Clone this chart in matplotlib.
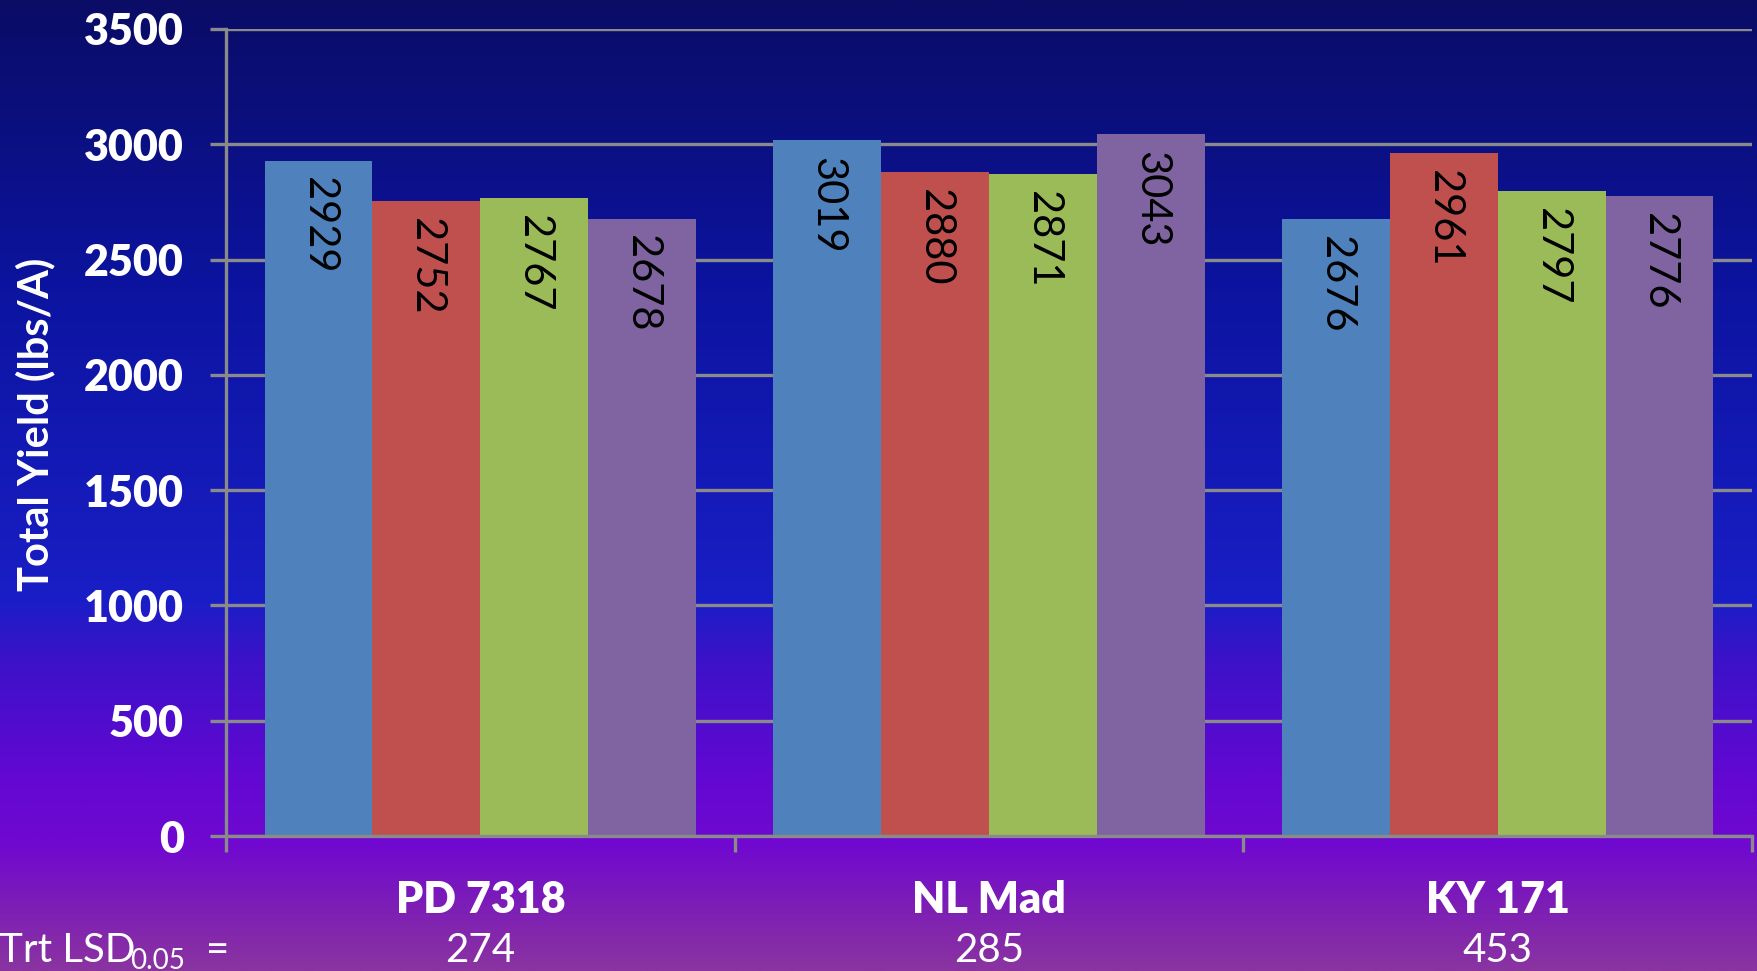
"""Total yield by variety and treatment, slide-style bar chart."""

import matplotlib
matplotlib.use("Agg")
import matplotlib.pyplot as plt
import matplotlib.transforms as mtransforms
from matplotlib.colors import LinearSegmentedColormap
import numpy as np

plt.rcParams["font.family"] = ["Lato", "DejaVu Sans"]

# data
varieties = ["PD 7318", "NL Mad", "KY 171"]
trt_1 = [2929, 3019, 2676]
trt_2 = [2752, 2880, 2961]
trt_3 = [2767, 2871, 2797]
trt_4 = [2678, 3043, 2776]
lsd_values = [274, 285, 453]
y_ticks = [0, 500, 1000, 1500, 2000, 2500, 3000, 3500]

series = [trt_1, trt_2, trt_3, trt_4]
colors = ["#4F81BD", "#C0504D", "#9BBB59", "#8064A2"]

W, H = 1758, 971
fig = plt.figure(figsize=(W / 100, H / 100), dpi=100)

# background gradient (top navy -> blue -> purple -> magenta)
bg = fig.add_axes([0, 0, 1, 1], zorder=-10)
stops = [
    (0.00, "#0a0c66"),
    (0.30, "#0c14a0"),
    (0.62, "#1a1ec6"),
    (0.68, "#3c12c8"),
    (0.80, "#6208d2"),
    (0.87, "#7008d0"),
    (0.93, "#7c1cb8"),
    (1.00, "#8a34a0"),
]
cmap = LinearSegmentedColormap.from_list("slide_bg", stops)
bg.imshow(np.linspace(0, 1, 512).reshape(-1, 1), aspect="auto", cmap=cmap,
          extent=[0, 1, 0, 1], origin="upper")
bg.set_axis_off()

ax_left, ax_right = 226 / W, 1752 / W
ax_top, ax_bot = 29 / H, 836 / H
ax = fig.add_axes([ax_left, 1 - ax_bot, ax_right - ax_left, ax_bot - ax_top])
ax.set_facecolor("none")

x = np.arange(len(varieties))
bar_w = 0.212
grid_col = "#8a8a8a"

for i, (vals, col) in enumerate(zip(series, colors)):
    xs = x + (i - 1.5) * bar_w
    ax.bar(xs, vals, width=bar_w, color=col, zorder=3)
    for xi, v in zip(xs, vals):
        ax.annotate(str(v), (xi, v), xytext=(0, -12), textcoords="offset points",
                    ha="center", va="top", rotation=270, fontsize=30,
                    color="black", zorder=4)

ax.set_xlim(-0.5, 2.5)
ax.set_ylim(0, 3500)
ax.set_yticks(y_ticks)
ax.set_yticklabels([str(t) for t in y_ticks], fontsize=31, fontweight="heavy",
                   color="white")
ax.yaxis.grid(True, color=grid_col, linewidth=2.4, zorder=0)
ax.set_axisbelow(True)
ax.tick_params(axis="y", length=11.5, width=2.4, color=grid_col, pad=19)

ax.set_xticks([-0.5, 0.5, 1.5, 2.5])
ax.set_xticklabels([])
ax.tick_params(axis="x", length=11.5, width=2.4, color=grid_col)

for side in ["top", "right"]:
    ax.spines[side].set_visible(False)
for side in ["left", "bottom"]:
    ax.spines[side].set_color(grid_col)
    ax.spines[side].set_linewidth(2.4)
    ax.spines[side].set_zorder(5)

# category names and LSD values under the axis
trans = mtransforms.blended_transform_factory(ax.transData, ax.transAxes)
ax_h = 836 - 29
for xi, name, lsd in zip(x, varieties, lsd_values):
    ax.text(xi, -(913 - 836) / ax_h, name, transform=trans, ha="center",
            va="baseline", fontsize=31, fontweight="heavy", color="white")
    ax.text(xi, -(962 - 836) / ax_h, str(lsd), transform=trans, ha="center",
            va="baseline", fontsize=29, color="white")

fig.text(-1 / W, 1 - 962 / H, "Trt LSD", ha="left", va="baseline",
         fontsize=29, color="white")
fig.text(130 / W, 1 - 969 / H, "0.05", ha="left", va="baseline",
         fontsize=20, color="white")
fig.text(206 / W, 1 - 962 / H, "=", ha="left", va="baseline",
         fontsize=29, color="white")

fig.text(35 / W, 1 - 424 / H, "Total Yield (lbs/A)", ha="center", va="center",
         rotation=90, fontsize=30, fontweight="bold", color="white")

fig.savefig("out.png", dpi=100)
